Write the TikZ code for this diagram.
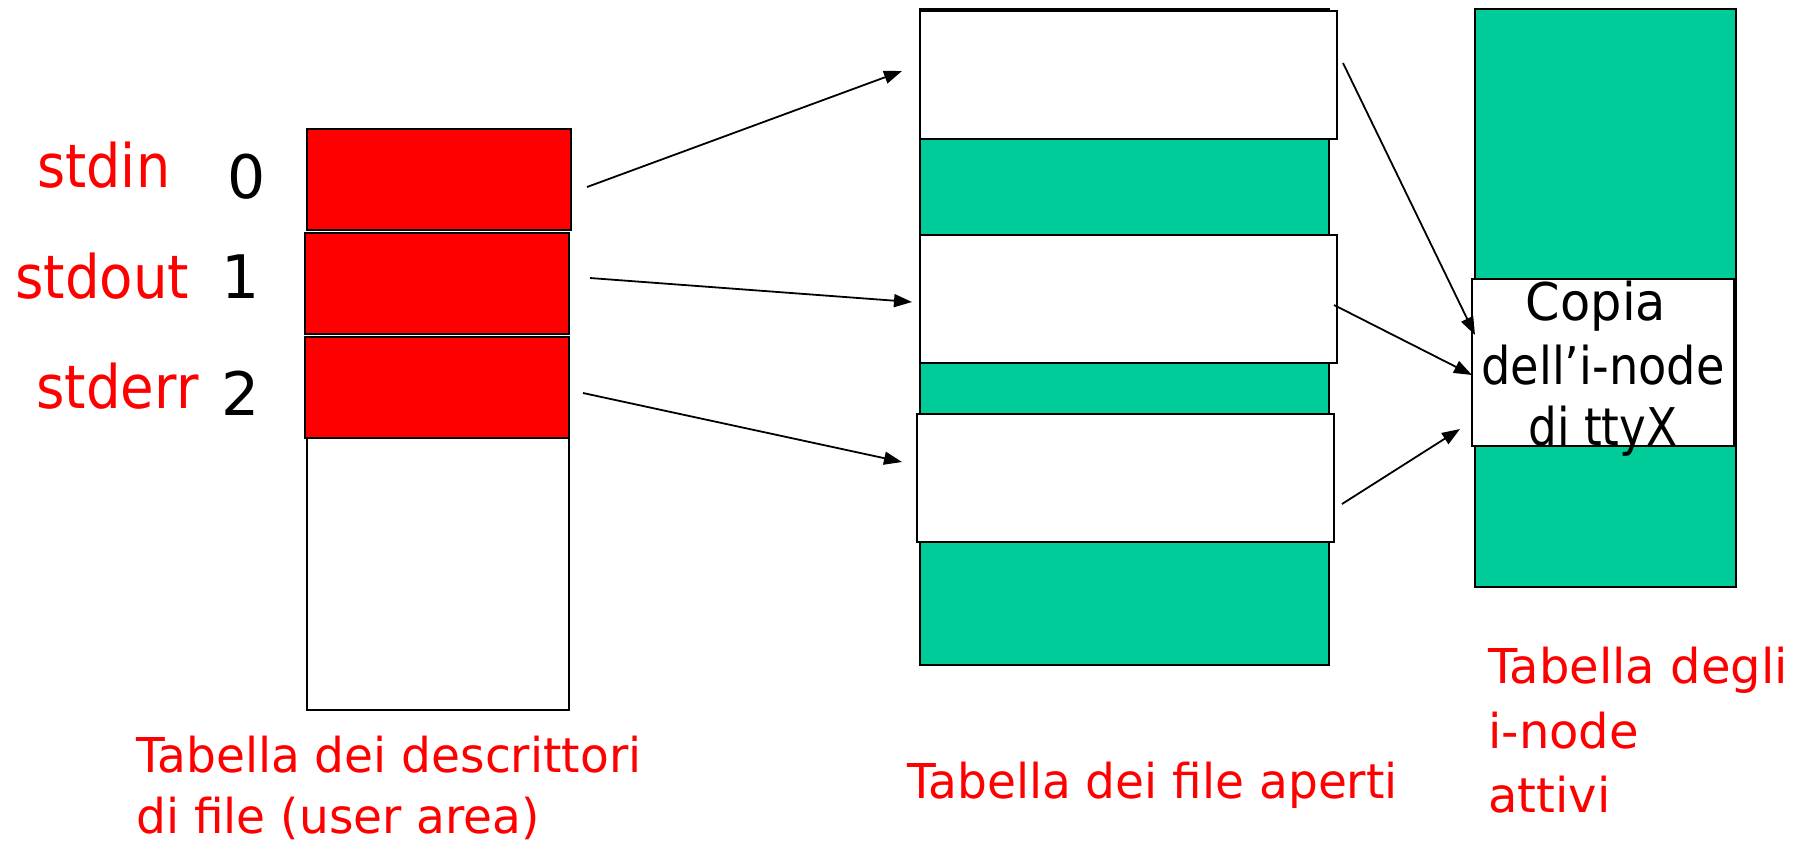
\documentclass[tikz,border=0pt]{standalone}
\usepackage{fontspec}
\setmainfont{DejaVu Sans}
\usetikzlibrary{arrows.meta,fit}
\definecolor{tabred}{RGB}{255,0,0}
\definecolor{tabgreen}{RGB}{0,204,153}
\newcommand{\sqz}[2]{\scalebox{#1}[1]{#2}}
\begin{document}
\begin{tikzpicture}[x=0.5pt,y=-0.5pt,
  cell/.style={draw=black, line width=1.2pt, inner sep=0pt},
  conn/.style={-{Triangle[length=9pt,width=6.5pt]}, line width=0.9pt},
  lbl/.style={text=tabred, font=\fontsize{30}{36}\selectfont, anchor=base west, inner sep=0pt},
  num/.style={text=black, font=\fontsize{30}{36}\selectfont, anchor=base, inner sep=0pt},
  capt/.style={text=tabred, font=\fontsize{24}{30}\selectfont, anchor=base west, inner sep=0pt},
  inode/.style={text=black, font=\fontsize{26}{31}\selectfont, anchor=base, inner sep=0pt}]
\useasboundingbox (0,0) rectangle (1806,843);

% left table: file descriptors
\node[cell, fill=white, fit={(307,438) (569,710)}] (fdrest) {};
\node[cell, fill=tabred, fit={(307,129) (571,230)}] (fd0) {};
\node[cell, fill=tabred, fit={(305,233) (569,334)}] (fd1) {};
\node[cell, fill=tabred, fit={(305,337) (569,438)}] (fd2) {};

\node[lbl] (lstdin) at (37,187) {\sqz{0.9}{stdin}};
\node[lbl] (lstdout) at (15,298) {\sqz{0.91}{stdout}};
\node[lbl] (lstderr) at (36,408) {\sqz{0.91}{stderr}};
\node[num] (n0) at (247,198) {0};
\node[num] (n1) at (241,298) {1};
\node[num] (n2) at (241,415) {2};

% middle table: open files
\node[cell, fill=tabgreen, fit={(920,9) (1329,665)}] (oft) {};
\node[cell, fill=white, fit={(920,11) (1337,139)}] (ofa) {};
\node[cell, fill=white, fit={(920,235) (1337,363)}] (ofb) {};
\node[cell, fill=white, fit={(917,414) (1334,542)}] (ofc) {};

% right table: active i-nodes
\node[cell, fill=tabgreen, fit={(1475,9) (1736,587)}] (itab) {};
\node[cell, fill=white, fit={(1472,279) (1734,446)}] (icopy) {};
\node[inode] (c1) at (1596,320) {\sqz{0.95}{Copia}};
\node[inode] (c2) at (1603,384) {\sqz{0.89}{dell’i-node}};
\node[inode] (c3) at (1603,445) {\sqz{0.87}{di ttyX}};

% connector end points
\coordinate (s0) at (587,187);
\coordinate (t0) at (902,71);
\coordinate (s1) at (590,278);
\coordinate (t1) at (912,302);
\coordinate (s2) at (583,393);
\coordinate (t2) at (902,462);
\coordinate (sa) at (1343,63);
\coordinate (ta) at (1475,335);
\coordinate (sb) at (1334,305);
\coordinate (tb) at (1472,375);
\coordinate (sc) at (1342,504);
\coordinate (tc) at (1460,429);

\draw[conn] (s0) -- (t0);
\draw[conn] (s1) -- (t1);
\draw[conn] (s2) -- (t2);
\draw[conn] (sa) -- (ta);
\draw[conn] (sb) -- (tb);
\draw[conn] (sc) -- (tc);

% captions
\node[capt] (cap1a) at (136,772) {\sqz{0.98}{Tabella dei descrittori}};
\node[capt] (cap1b) at (136,833) {\sqz{0.98}{di file (user area)}};
\node[capt] (cap2) at (907,798) {\sqz{0.98}{Tabella dei file aperti}};
\node[capt] (cap3a) at (1488,683) {\sqz{1.0}{Tabella degli}};
\node[capt] (cap3b) at (1488,748) {\sqz{1.0}{i-node}};
\node[capt] (cap3c) at (1488,812) {\sqz{1.0}{attivi}};
\end{tikzpicture}
\end{document}
